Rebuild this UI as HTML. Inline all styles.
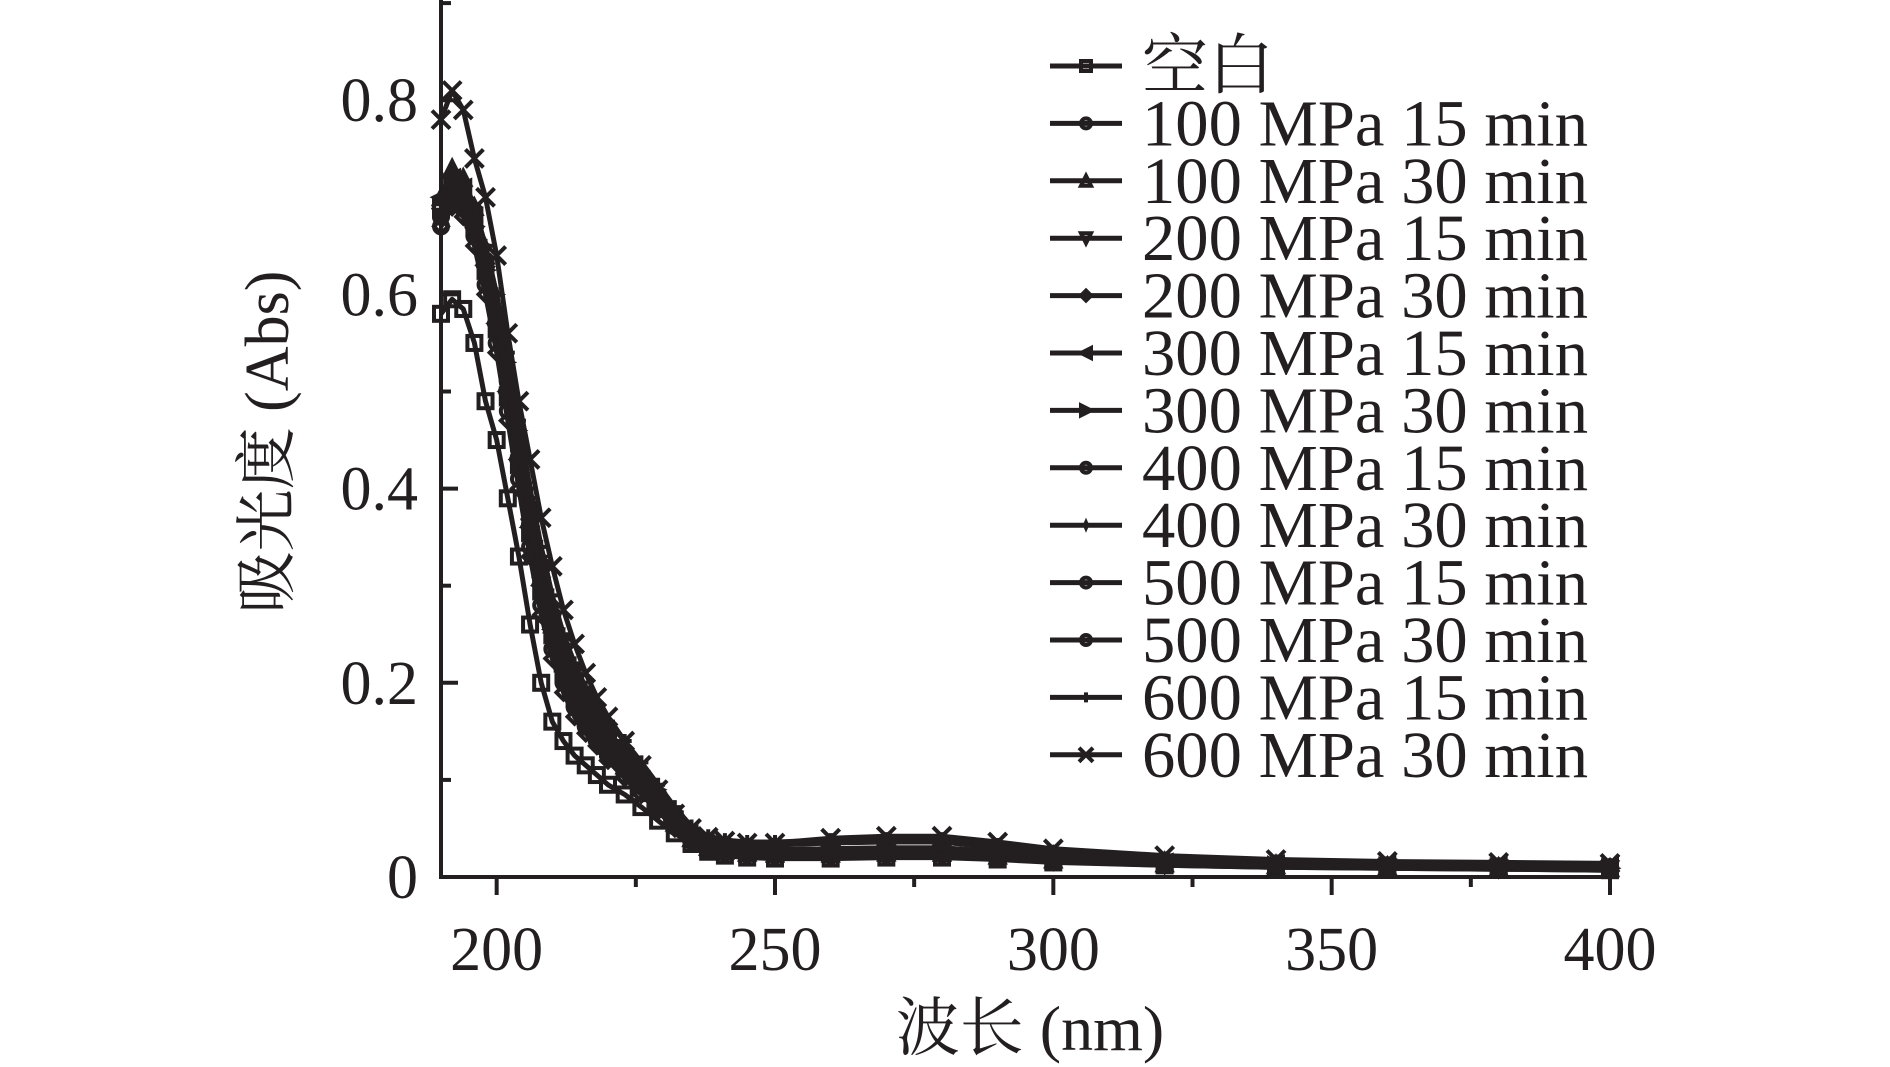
<!DOCTYPE html>
<html><head><meta charset="utf-8"><style>
html,body{margin:0;padding:0;background:#fff;}
svg{display:block;}
text{font-family:"Liberation Serif","Noto Serif CJK SC",serif;fill:#231f20;}
</style></head><body>
<svg id="chart" width="1890" height="1067" viewBox="0 0 1890 1067" xmlns="http://www.w3.org/2000/svg">
<g id="axes" stroke="#231f20" stroke-width="4">
<line x1="441" y1="0" x2="441" y2="879"/>
<line x1="439" y1="877" x2="1612" y2="877"/>
</g>
<g id="ticks"></g>
<g id="series"></g>
<text x="1030" y="1050" font-size="64" text-anchor="middle">波长 (nm)</text>
<text x="0" y="0" font-size="62" text-anchor="middle" transform="translate(288,442) rotate(-90)">吸光度 (Abs)</text>
<g id="legend"></g>
</svg>
<script>
var wavelengths=[190,192,194,196,198,200,202,204,206,208,210,212,214,216,218,220,223,226,229,232,235,238,241,245,250,260,270,280,290,300,320,340,360,380,400];
var seriesNames=["空白","100 MPa 15 min","100 MPa 30 min","200 MPa 15 min","200 MPa 30 min","300 MPa 15 min","300 MPa 30 min","400 MPa 15 min","400 MPa 30 min","500 MPa 15 min","500 MPa 30 min","600 MPa 15 min","600 MPa 30 min"];
var blank=[0.58,0.595,0.585,0.55,0.49,0.45,0.39,0.33,0.26,0.20,0.16,0.14,0.125,0.115,0.105,0.095,0.085,0.072,0.058,0.045,0.034,0.026,0.022,0.02,0.019,0.019,0.02,0.02,0.018,0.015,0.012,0.01,0.009,0.008,0.007];
var p100m15=[0.69,0.71,0.69,0.66,0.61,0.55,0.48,0.41,0.34,0.28,0.235,0.20,0.175,0.155,0.14,0.125,0.105,0.088,0.07,0.052,0.037,0.028,0.025,0.023,0.022,0.022,0.023,0.023,0.02,0.017,0.013,0.011,0.01,0.009,0.008];
var p100m30=[0.70,0.73,0.72,0.69,0.64,0.58,0.51,0.44,0.37,0.31,0.26,0.22,0.19,0.17,0.15,0.135,0.115,0.095,0.075,0.056,0.04,0.031,0.027,0.025,0.024,0.024,0.025,0.025,0.022,0.018,0.014,0.012,0.011,0.01,0.009];
var p200m15=[0.68,0.70,0.69,0.66,0.62,0.56,0.49,0.42,0.36,0.30,0.25,0.21,0.18,0.16,0.145,0.13,0.11,0.092,0.073,0.055,0.039,0.03,0.026,0.024,0.023,0.023,0.024,0.024,0.021,0.017,0.013,0.011,0.01,0.009,0.008];
var p200m30=[0.67,0.69,0.68,0.65,0.60,0.54,0.47,0.40,0.33,0.27,0.225,0.19,0.165,0.148,0.135,0.12,0.102,0.085,0.068,0.05,0.036,0.028,0.024,0.022,0.021,0.021,0.022,0.022,0.019,0.016,0.012,0.01,0.009,0.008,0.007];
var p300m15=[0.70,0.72,0.71,0.68,0.63,0.57,0.50,0.43,0.36,0.30,0.255,0.215,0.19,0.17,0.152,0.137,0.117,0.097,0.077,0.058,0.042,0.033,0.029,0.027,0.026,0.027,0.028,0.028,0.024,0.02,0.015,0.013,0.012,0.011,0.01];
var p300m30=[0.69,0.715,0.70,0.67,0.625,0.565,0.495,0.425,0.355,0.295,0.25,0.21,0.185,0.165,0.148,0.133,0.113,0.094,0.075,0.056,0.04,0.031,0.027,0.025,0.024,0.025,0.026,0.026,0.022,0.018,0.014,0.012,0.011,0.01,0.009];
var p400m15=[0.68,0.70,0.69,0.67,0.63,0.58,0.51,0.45,0.38,0.32,0.27,0.23,0.20,0.178,0.16,0.145,0.125,0.105,0.085,0.064,0.046,0.036,0.031,0.029,0.028,0.029,0.03,0.03,0.026,0.021,0.016,0.013,0.012,0.011,0.01];
var p400m30=[0.70,0.72,0.71,0.69,0.65,0.60,0.53,0.46,0.39,0.33,0.28,0.24,0.21,0.185,0.165,0.15,0.13,0.11,0.09,0.068,0.048,0.038,0.035,0.033,0.033,0.035,0.036,0.036,0.03,0.024,0.018,0.015,0.013,0.012,0.011];
var p500m15=[0.67,0.695,0.69,0.67,0.63,0.57,0.50,0.43,0.36,0.30,0.255,0.22,0.19,0.17,0.155,0.14,0.12,0.1,0.08,0.06,0.043,0.034,0.03,0.028,0.027,0.028,0.029,0.029,0.025,0.02,0.015,0.013,0.012,0.011,0.01];
var p500m30=[0.68,0.705,0.70,0.675,0.635,0.58,0.51,0.44,0.37,0.31,0.265,0.225,0.195,0.175,0.158,0.143,0.123,0.103,0.083,0.062,0.045,0.035,0.031,0.029,0.028,0.029,0.03,0.03,0.026,0.021,0.016,0.013,0.012,0.011,0.01];
var p600m15=[0.70,0.725,0.715,0.69,0.65,0.60,0.54,0.47,0.40,0.34,0.29,0.25,0.22,0.195,0.175,0.16,0.14,0.118,0.095,0.072,0.052,0.042,0.038,0.036,0.036,0.038,0.039,0.039,0.033,0.026,0.019,0.016,0.014,0.013,0.012];
var p600m30=[0.78,0.81,0.79,0.74,0.70,0.64,0.56,0.49,0.43,0.37,0.32,0.275,0.24,0.21,0.185,0.165,0.14,0.115,0.09,0.065,0.05,0.041,0.037,0.035,0.035,0.04,0.042,0.042,0.036,0.029,0.022,0.018,0.016,0.015,0.014];
var xTicks=[200,250,300,350,400];
var xTickLabels=["200","250","300","350","400"];
var yTicks=[0,0.2,0.4,0.6,0.8];
var yTickLabels=["0","0.2","0.4","0.6","0.8"];

var allSeries=[blank,p100m15,p100m30,p200m15,p200m30,p300m15,p300m30,p400m15,p400m30,p500m15,p500m30,p600m15,p600m30];
var markerTypes=["square","circle","triup","tridown","diamond","trileft","triright","circle","star","circle","circle","plus","cross"];
var SVGNS="http://www.w3.org/2000/svg";
var COL="#231f20";
var PX0=441,PX1=1610,PY0=877;
function sx(v){return PX0+(v-190)*(PX1-PX0)/210;}
function sy(v){return PY0-v*971;}
function mk(tag,attrs,parent){
  var e=document.createElementNS(SVGNS,tag);
  for(var k in attrs){e.setAttribute(k,attrs[k]);}
  parent.appendChild(e);
  return e;
}
function drawMarker(g,type,x,y,s){
  var e;
  var st={fill:"none",stroke:COL,"stroke-width":4};
  function A(o){for(var k in st){if(!(k in o))o[k]=st[k];}return o;}
  if(type==="square")e=mk("rect",A({x:x-s,y:y-s,width:2*s,height:2*s}),g);
  else if(type==="circle")e=mk("circle",A({cx:x,cy:y,r:s}),g);
  else if(type==="triup")e=mk("polygon",A({points:x+","+(y-s)+" "+(x+s)+","+(y+s)+" "+(x-s)+","+(y+s)}),g);
  else if(type==="tridown")e=mk("polygon",A({points:x+","+(y+s)+" "+(x+s)+","+(y-s)+" "+(x-s)+","+(y-s)}),g);
  else if(type==="trileft")e=mk("polygon",A({points:(x-s)+","+y+" "+(x+s)+","+(y-s)+" "+(x+s)+","+(y+s)}),g);
  else if(type==="triright")e=mk("polygon",A({points:(x+s)+","+y+" "+(x-s)+","+(y-s)+" "+(x-s)+","+(y+s)}),g);
  else if(type==="diamond")e=mk("polygon",A({points:x+","+(y-s)+" "+(x+s)+","+y+" "+x+","+(y+s)+" "+(x-s)+","+y}),g);
  else if(type==="star")e=mk("polygon",{points:x+","+(y-s)+" "+(x+s*0.3)+","+(y-s*0.3)+" "+(x+s)+","+y+" "+(x+s*0.3)+","+(y+s*0.3)+" "+x+","+(y+s)+" "+(x-s*0.3)+","+(y+s*0.3)+" "+(x-s)+","+y+" "+(x-s*0.3)+","+(y-s*0.3),fill:COL,stroke:COL,"stroke-width":2},g);
  else if(type==="plus")e=mk("path",A({d:"M"+(x-s)+" "+y+"H"+(x+s)+"M"+x+" "+(y-s)+"V"+(y+s)}),g);
  else e=mk("path",A({d:"M"+(x-s)+" "+(y-s)+"L"+(x+s)+" "+(y+s)+"M"+(x+s)+" "+(y-s)+"L"+(x-s)+" "+(y+s)}),g);
  
  
}
try{
var tg=document.getElementById("ticks");
for(var v=200;v<=400;v+=25){
  var major=(v%50===0);
  var t=mk("line",{x1:sx(v),y1:PY0,x2:sx(v),y2:PY0+(major?18:10),stroke:COL,"stroke-width":4},tg);
  
  
}
for(var i=0;i<xTicks.length;i++){
  var tl=mk("text",{x:sx(xTicks[i]),y:970,"font-size":62,"text-anchor":"middle"},tg);
  tl.textContent=xTickLabels[i];
  
  
}
for(var k=0;k<=9;k++){
  var yv=k*0.1;
  var yt=mk("line",{x1:PX0,y1:sy(yv),x2:PX0+(k%2===0?17:10),y2:sy(yv),stroke:COL,"stroke-width":4},tg);
  
  
}
for(var j=0;j<yTicks.length;j++){
  var yl=mk("text",{x:418,y:sy(yTicks[j])+21,"font-size":62,"text-anchor":"end"},tg);
  yl.textContent=yTickLabels[j];
  
  
}
var sg=document.getElementById("series");
for(var si=0;si<allSeries.length;si++){
  var vals=allSeries[si];
  var g=mk("g",{},sg);
  
  
  var pts=[];
  for(var p=0;p<vals.length;p++){pts.push(sx(wavelengths[p]).toFixed(1)+","+sy(vals[p]).toFixed(1));}
  var pl=mk("polyline",{points:pts.join(" "),fill:"none",stroke:COL,"stroke-width":5,"stroke-linejoin":"round"},g);
  
  
  for(var q=0;q<vals.length;q++){drawMarker(g,markerTypes[si],sx(wavelengths[q]),sy(vals[q]),si===12?9:7);}
}
var lg=document.getElementById("legend");
for(var li=0;li<seriesNames.length;li++){
  var ly=66+li*57.4;
  var eg=mk("g",{},lg);
  
  
  mk("line",{x1:1050,y1:ly,x2:1122,y2:ly,stroke:COL,"stroke-width":5},eg);
  drawMarker(eg,markerTypes[li],1086,ly,li===12?7:5);
  var lt=mk("text",{x:1142,y:ly+22,"font-size":66},eg);
  if(li>0){lt.setAttribute("textLength","446");lt.setAttribute("lengthAdjust","spacingAndGlyphs");}
  lt.textContent=seriesNames[li];
  
  
}
}catch(err){}
</script>
</body></html>
